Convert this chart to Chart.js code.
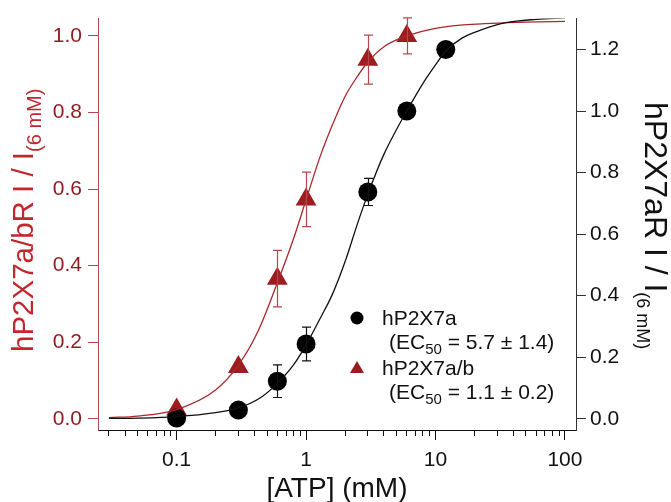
<!DOCTYPE html>
<html>
<head>
<meta charset="utf-8">
<script src="https://cdn.jsdelivr.net/npm/chart.js@4.4.1/dist/chart.umd.min.js"></script>
<style>
  html, body { margin: 0; padding: 0; background: #fff; }
  #wrap { width: 671px; height: 502px; }
</style>
</head>
<body>
<div id="wrap"><canvas id="doseChart"></canvas></div>
<script>
const FONT = '"Liberation Sans", Arial, sans-serif';
const RED = '#9c1c1f';
const RED_LINE = '#a8282d';
const RED_AXIS = '#b8474b';

// measured points, x = [ATP] (mM)
const atpA = [0.1, 0.3, 0.6, 1, 3, 6, 12];
const respA = [0.002, 0.028, 0.122, 0.243, 0.737, 1.0, 1.2];
const errA = [0, 0, 0.053, 0.055, 0.044, 0, 0];

const atpAB = [0.1, 0.3, 0.6, 1, 3, 6];
const respAB = [0.024, 0.135, 0.366, 0.573, 0.938, 1.0];
const errAB = [0, 0, 0.074, 0.071, 0.064, 0.047];

// fitted curves
const fitAX = [0.03, 0.05, 0.1, 0.2, 0.3, 0.45, 0.6, 0.8, 1, 1.3, 1.6, 2, 2.5, 3, 4, 5, 6, 8, 10, 12, 16, 22, 35, 60, 100];
const fitAY = [0.001, 0.002, 0.007, 0.02, 0.035, 0.07, 0.115, 0.175, 0.24, 0.33, 0.405, 0.51, 0.635, 0.73, 0.86, 0.94, 1.0, 1.09, 1.15, 1.195, 1.237, 1.262, 1.287, 1.298, 1.303];

const fitABX = [0.03, 0.05, 0.1, 0.2, 0.3, 0.43, 0.6, 0.8, 1, 1.3, 1.6, 2, 2.5, 3, 4, 6, 10, 24, 50, 100];
const fitABY = [0.003, 0.007, 0.024, 0.075, 0.14, 0.232, 0.355, 0.47, 0.572, 0.69, 0.768, 0.842, 0.895, 0.932, 0.972, 1.0, 1.02, 1.032, 1.036, 1.038];

// axis ticks
const xTickValues = [0.03, 0.04, 0.05, 0.06, 0.07, 0.08, 0.09, 0.1, 0.2, 0.3, 0.4, 0.5, 0.6, 0.7, 0.8, 0.9,
  1, 2, 3, 4, 5, 6, 7, 8, 9, 10, 20, 30, 40, 50, 60, 70, 80, 90, 100];
const xLabelValues = [0.1, 1, 10, 100];
const leftTicks = [0, 0.2, 0.4, 0.6, 0.8, 1.0];
const rightTicks = [0, 0.2, 0.4, 0.6, 0.8, 1.0, 1.2];

const toPts = (xs, ys) => xs.map((x, i) => ({ x: x, y: ys[i] }));

function drawErrors(chart, xs, ys, es, axisId, color) {
  const ctx = chart.ctx;
  const sx = chart.scales.x;
  const sy = chart.scales[axisId];
  ctx.save();
  ctx.strokeStyle = color;
  ctx.lineWidth = 1.2;
  xs.forEach((x, i) => {
    if (!es[i]) return;
    const px = Math.round(sx.getPixelForValue(x)) + 0.5;
    const top = sy.getPixelForValue(ys[i] + es[i]);
    const bot = sy.getPixelForValue(ys[i] - es[i]);
    ctx.beginPath();
    ctx.moveTo(px, top); ctx.lineTo(px, bot);
    ctx.moveTo(px - 4.5, top); ctx.lineTo(px + 4.5, top);
    ctx.moveTo(px - 4.5, bot); ctx.lineTo(px + 4.5, bot);
    ctx.stroke();
  });
  ctx.restore();
}

// text runs with subscripts: [text, size, dy]
function drawRuns(ctx, runs, x, y) {
  let cx = x;
  runs.forEach(([t, size, dy]) => {
    ctx.font = size + 'px ' + FONT;
    ctx.fillText(t, cx, y + dy);
    cx += ctx.measureText(t).width;
  });
}

const decor = {
  id: 'decor',
  afterDatasetsDraw(chart) {
    drawErrors(chart, atpAB, respAB, errAB, 'y', RED_AXIS);
    drawErrors(chart, atpA, respA, errA, 'y2', '#111');
  },
  afterDraw(chart) {
    const ctx = chart.ctx;
    const area = chart.chartArea;
    ctx.save();
    ctx.textAlign = 'left';
    ctx.textBaseline = 'alphabetic';

    // left title
    ctx.save();
    ctx.fillStyle = '#c1272d';
    ctx.translate(33, 352);
    ctx.rotate(-Math.PI / 2);
    drawRuns(ctx, [['hP2X7a/bR I / I', 29.5, 0], ['(6 mM)', 20, 8]], 0, 0);
    ctx.restore();

    // right title
    ctx.save();
    ctx.fillStyle = '#111';
    ctx.translate(645, 102);
    ctx.rotate(Math.PI / 2);
    drawRuns(ctx, [['hP2X7aR I / I', 32, 0], ['(6 mM)', 18, 8]], 0, 0);
    ctx.restore();

    // x title
    ctx.fillStyle = '#111';
    ctx.textAlign = 'center';
    ctx.font = '28px ' + FONT;
    ctx.fillText('[ATP] (mM)', (area.left + area.right) / 2, 497);
    ctx.textAlign = 'left';

    // legend
    ctx.fillStyle = '#000';
    ctx.beginPath();
    ctx.arc(357, 318, 6.5, 0, Math.PI * 2);
    ctx.fill();
    ctx.fillStyle = RED;
    ctx.beginPath();
    ctx.moveTo(357, 361);
    ctx.lineTo(364, 373);
    ctx.lineTo(350, 373);
    ctx.closePath();
    ctx.fill();

    ctx.fillStyle = '#111';
    drawRuns(ctx, [['hP2X7a', 21, 0]], 382, 325);
    drawRuns(ctx, [['(EC', 21, 0], ['50', 15, 5], [' = 5.7 \u00b1 1.4)', 21, 0]], 389, 349);
    drawRuns(ctx, [['hP2X7a/b', 21, 0]], 382, 375);
    drawRuns(ctx, [['(EC', 21, 0], ['50', 15, 5], [' = 1.1 \u00b1 0.2)', 21, 0]], 389, 399);
    ctx.restore();
  }
};

const tickFont = { family: FONT, size: 21 };

new Chart(document.getElementById('doseChart'), {
  type: 'scatter',
  data: {
    datasets: [
      {
        label: 'hP2X7a fit',
        data: toPts(fitAX, fitAY),
        yAxisID: 'y2',
        showLine: true,
        pointRadius: 0,
        borderColor: '#111',
        borderWidth: 1.3,
        cubicInterpolationMode: 'monotone',
      },
      {
        label: 'hP2X7a/b fit',
        data: toPts(fitABX, fitABY),
        yAxisID: 'y',
        showLine: true,
        pointRadius: 0,
        borderColor: RED_LINE,
        borderWidth: 1.3,
        cubicInterpolationMode: 'monotone',
      },
      {
        label: 'hP2X7a',
        data: toPts(atpA, respA),
        yAxisID: 'y2',
        pointStyle: 'circle',
        pointRadius: 9.5,
        backgroundColor: '#000',
        borderWidth: 0,
      },
      {
        label: 'hP2X7a/b',
        data: toPts(atpAB, respAB),
        yAxisID: 'y',
        pointStyle: 'triangle',
        pointRadius: 12,
        backgroundColor: RED,
        borderWidth: 0,
      },
    ],
  },
  options: {
    responsive: true,
    maintainAspectRatio: false,
    animation: false,
    layout: { padding: { top: 17 }, autoPadding: false },
    plugins: { legend: { display: false }, tooltip: { enabled: false } },
    scales: {
      x: {
        type: 'logarithmic',
        position: 'bottom',
        min: 0.0247,
        max: 121.7,
        afterBuildTicks: (s) => { s.ticks = xTickValues.map((v) => ({ value: v })); },
        afterFit: (s) => { s.height = 72; },
        ticks: {
          autoSkip: false,
          maxRotation: 0,
          padding: 8,
          color: '#111',
          font: tickFont,
          callback: (v) => (xLabelValues.includes(v) ? String(v) : ''),
        },
        grid: {
          drawOnChartArea: false,
          tickLength: 10,
          tickColor: '#111',
          tickBorderDash: (c) => (c.tick && xLabelValues.includes(c.tick.value) ? [] : [5, 50]),
        },
        border: { color: '#111', width: 1 },
      },
      y: {
        type: 'linear',
        position: 'left',
        min: -0.0294,
        max: 1.0453,
        afterBuildTicks: (s) => { s.ticks = leftTicks.map((v) => ({ value: v })); },
        afterFit: (s) => { s.width = 98; },
        ticks: { color: '#8e1b1f', padding: 6, font: tickFont, callback: (v) => v.toFixed(1) },
        grid: { drawOnChartArea: false, tickLength: 10, tickColor: RED_AXIS },
        border: { color: RED_AXIS, width: 1 },
      },
      y2: {
        type: 'linear',
        position: 'right',
        min: -0.0366,
        max: 1.3004,
        afterBuildTicks: (s) => { s.ticks = rightTicks.map((v) => ({ value: v })); },
        afterFit: (s) => { s.width = 95; },
        ticks: { color: '#111', padding: 4, font: tickFont, callback: (v) => v.toFixed(1) },
        grid: { drawOnChartArea: false, tickLength: 10, tickColor: '#333' },
        border: { color: '#333', width: 1 },
      },
    },
  },
  plugins: [decor],
});
</script>
</body>
</html>
